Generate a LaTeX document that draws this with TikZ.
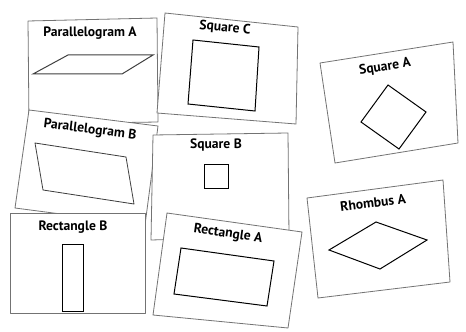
\documentclass[tikz,border=0pt]{standalone}
\usepackage{fontspec}
\setmainfont{PT Sans}
\begin{document}
\begin{tikzpicture}[x=0.75pt,y=-0.75pt,
  card/.style={draw=black!55,line width=0.6pt,fill=white,line join=round},
  fig/.style={draw=black,line width=0.75pt,line join=miter},
  lbl/.style={font=\bfseries\fontsize{10.2}{12}\selectfont,inner sep=0pt}]
\useasboundingbox (0,0) rectangle (466,331);
% Parallelogram A
\draw[card] (28,21) -- (157,18) -- (158,122) -- (29,124) -- cycle;
\node[lbl] (pa) at (90,33) {Parallelogram A};
\draw[fig,draw=black!75] (33,74) -- (68,55) -- (153,55) -- (122,74) -- cycle;
% Square C
\draw[card] (165,13) -- (298,27) -- (296,124) -- (157,113) -- cycle;
\node[lbl,rotate=-5] (sc) at (225,28) {Square C};
\draw[fig] (193,40) -- (259,47) -- (255,111) -- (188,104) -- cycle;
% Parallelogram B
\draw[card] (29,110) -- (158,126) -- (145,225) -- (15,208) -- cycle;
\node[lbl,rotate=-7] (pb) at (90,130) {Parallelogram B};
\draw[fig,line width=0.6pt,draw=black!75] (35,143) -- (126,157) -- (134,204) -- (43,190) -- cycle;
% Square B
\draw[card] (153,135) -- (288,133) -- (289,236) -- (151,240) -- cycle;
\node[lbl] (sb) at (216,145) {Square B};
\draw[fig] (204,164) rectangle (228,188);
% Rectangle B
\draw[card] (10,213) rectangle (145,313);
\node[lbl] (rb) at (73,227) {Rectangle B};
\draw[fig] (62,244) rectangle (83,311);
% Rectangle A
\draw[card] (167,213) -- (302,232) -- (288,328) -- (153,315) -- cycle;
\node[lbl,rotate=-8] (ra) at (228,234) {Rectangle A};
\draw[fig] (181,248) -- (274,261) -- (267,306) -- (174,294) -- cycle;
% Square A
\draw[card] (320,63) -- (453,42) -- (458,143) -- (335,163) -- cycle;
\node[lbl,rotate=9] (sa) at (385,67) {Square A};
\draw[fig] (388,85) -- (426,112) -- (399,149) -- (361,122) -- cycle;
% Rhombus A
\draw[card] (307,198) -- (443,180) -- (450,282) -- (318,298) -- cycle;
\node[lbl,rotate=7] (rh) at (373,203) {Rhombus A};
\draw[fig] (376,222) -- (427,240) -- (380,269) -- (329,250) -- cycle;
\end{tikzpicture}
\end{document}
